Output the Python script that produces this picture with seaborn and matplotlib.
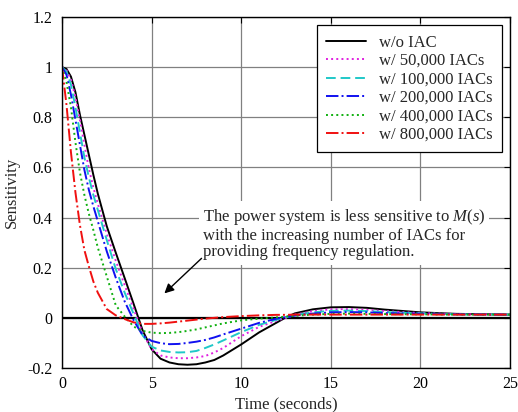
import matplotlib
matplotlib.use("Agg")
import matplotlib.pyplot as plt
import seaborn as sns
import pandas as pd

# ---- data ----
time_s = [0, 0.25, 0.5, 0.75, 1.0, 1.25, 1.5, 1.75, 2.0, 2.5, 3.0, 3.5, 4.0, 4.5,
          5.0, 5.5, 6.0, 6.5, 7.0, 7.5, 8.0, 8.5, 9.0, 10.0, 11.0, 12.0, 12.5,
          13.0, 14.0, 15.0, 16.0, 17.0, 18.0, 20.0, 22.0, 25.0]

wo_iac = [1.0, 0.993, 0.962, 0.90, 0.81, 0.73, 0.65, 0.57, 0.495, 0.365, 0.26, 0.158, 0.055, -0.05,
          -0.125, -0.163, -0.178, -0.185, -0.187, -0.185, -0.178, -0.168, -0.15, -0.106, -0.058, -0.018, 0.002,
          0.018, 0.034, 0.042, 0.043, 0.040, 0.033, 0.022, 0.016, 0.013]
w_50k = [1.0, 0.988, 0.95, 0.88, 0.79, 0.69, 0.595, 0.52, 0.455, 0.335, 0.228, 0.13, 0.035, -0.06,
         -0.125, -0.15, -0.158, -0.161, -0.161, -0.158, -0.152, -0.138, -0.12, -0.073, -0.036, -0.011, 0.0,
         0.013, 0.027, 0.034, 0.035, 0.032, 0.027, 0.019, 0.015, 0.013]
w_100k = [1.0, 0.982, 0.93, 0.84, 0.74, 0.64, 0.56, 0.49, 0.43, 0.31, 0.195, 0.10, 0.015, -0.07,
          -0.115, -0.13, -0.136, -0.138, -0.137, -0.132, -0.12, -0.106, -0.09, -0.057, -0.028, -0.007, 0.002,
          0.011, 0.022, 0.028, 0.029, 0.027, 0.023, 0.018, 0.014, 0.013]
w_200k = [1.0, 0.97, 0.89, 0.79, 0.69, 0.59, 0.51, 0.445, 0.385, 0.265, 0.16, 0.065, -0.01, -0.07,
          -0.092, -0.101, -0.105, -0.104, -0.10, -0.095, -0.088, -0.078, -0.066, -0.043, -0.02, -0.003, 0.003,
          0.009, 0.017, 0.022, 0.023, 0.022, 0.019, 0.016, 0.014, 0.013]
w_400k = [1.0, 0.94, 0.84, 0.70, 0.58, 0.49, 0.415, 0.35, 0.28, 0.165, 0.05, 0.005, -0.035, -0.052,
          -0.059, -0.061, -0.06, -0.057, -0.052, -0.046, -0.038, -0.03, -0.022, -0.01, -0.003, 0.002, 0.005,
          0.008, 0.013, 0.016, 0.017, 0.016, 0.015, 0.014, 0.013, 0.013]
w_800k = [1.0, 0.85, 0.66, 0.50, 0.37, 0.27, 0.205, 0.145, 0.10, 0.035, 0.01, -0.005, -0.018, -0.024,
          -0.024, -0.022, -0.019, -0.015, -0.011, -0.007, -0.003, 0.0, 0.003, 0.007, 0.01, 0.012, 0.012,
          0.013, 0.013, 0.013, 0.013, 0.013, 0.013, 0.013, 0.013, 0.013]

labels = ["w/o IAC", "w/ 50,000 IACs", "w/ 100,000 IACs", "w/ 200,000 IACs",
          "w/ 400,000 IACs", "w/ 800,000 IACs"]
series = [wo_iac, w_50k, w_100k, w_200k, w_400k, w_800k]
colors = ["black", "#e020e0", "#20c8c8", "#1010f0", "#10b010", "#f01010"]
styles = ["-", ":", (0, (5, 2.5)), "-.", ":", "-."]

x_ticks = [0, 5, 10, 15, 20, 25]
y_ticks = [-0.2, 0, 0.2, 0.4, 0.6, 0.8, 1.0, 1.2]
y_tick_labels = ["-0.2", "0", "0.2", "0.4", "0.6", "0.8", "1", "1.2"]

# ---- style ----
sns.set_theme(style="white")
plt.rcParams["font.family"] = ["Liberation Serif", "DejaVu Serif"]
plt.rcParams["mathtext.fontset"] = "custom"
plt.rcParams["mathtext.rm"] = "Liberation Serif"
plt.rcParams["mathtext.it"] = "Liberation Serif:italic"

fig = plt.figure(figsize=(5.18, 4.12), dpi=100)
ax = fig.add_axes([62 / 518, 1 - 368 / 412, (510 - 62) / 518, (368 - 17) / 412])

for vals, lab, col, ls in zip(series, labels, colors, styles):
    df = pd.DataFrame({"t": time_s, "v": vals})
    sns.lineplot(data=df, x="t", y="v", ax=ax, color=col, linestyle=ls,
                 linewidth=1.4, label=lab)

ax.axhline(0, color="black", linewidth=1.6, zorder=1)

ax.set_xlim(0, 25)
ax.set_ylim(-0.2, 1.2)
ax.set_xticks(x_ticks)
ax.set_yticks(y_ticks)
ax.set_yticklabels(y_tick_labels)
ax.grid(True, color="#808080", linewidth=0.9)
ax.set_axisbelow(True)
ax.tick_params(direction="in", length=4, width=0.8, top=True, right=True,
               labelsize=11.5, colors="black")
ax.tick_params(axis="y", pad=7)
ax.tick_params(axis="x", pad=6)
for sp in ax.spines.values():
    sp.set_color("black")
    sp.set_linewidth(1.0)

ax.set_xlabel("Time (seconds)", fontsize=12, labelpad=3)
ax.set_ylabel("Sensitivity", fontsize=12, labelpad=5)

leg = ax.legend(loc="upper right", fontsize=12, frameon=True, fancybox=False,
                edgecolor="black", framealpha=1, borderaxespad=0.5,
                handlelength=2.4, labelspacing=0.15, borderpad=0.55, handletextpad=0.75)
leg.get_frame().set_linewidth(0.9)

ax.text(7.85, 0.335,
        "The power system is less sensitive to $M$($s$)\n"
        "with the increasing number of IACs for\n"
        "providing frequency regulation.",
        fontsize=12, ha="left", va="center", linespacing=1.05, zorder=5,
        bbox=dict(facecolor="white", edgecolor="none", pad=3))

ax.annotate("", xy=(5.6, 0.09), xytext=(7.9, 0.245),
            arrowprops=dict(arrowstyle="-|>", color="black", lw=1.0,
                            mutation_scale=14), zorder=6)

fig.savefig("out.png", dpi=100)
